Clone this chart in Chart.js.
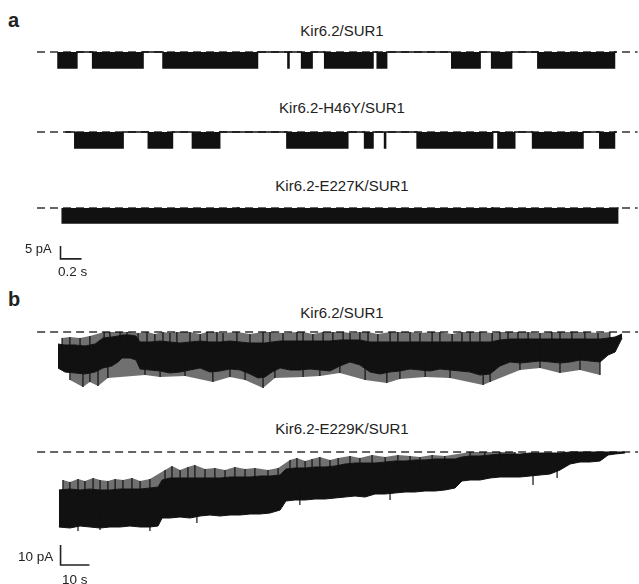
<!DOCTYPE html>
<html>
<head>
<meta charset="utf-8">
<script src="https://cdn.jsdelivr.net/npm/chart.js@4.4.1/dist/chart.umd.min.js"></script>
<style>
  body { margin: 0; background: #fff; }
  #page { position: relative; width: 639px; height: 584px; overflow: hidden; font-family: "Liberation Sans", Arial, sans-serif; color: #222; }
  canvas { position: absolute; }
  .lbl { position: absolute; white-space: nowrap; line-height: 1; }
</style>
</head>
<body>
<div id="page"></div>
<script>
// ---- panel a: single-channel bursts (time in s, current in pA, closed level = 0) ----
const a1Rec = [0, 5.32];
const a1Start = [0.00, 0.33, 1.00, 2.19, 2.32, 2.54, 3.04, 3.75, 4.13, 4.57];
const a1End   = [0.18, 0.81, 1.90, 2.20, 2.42, 3.00, 3.13, 4.02, 4.32, 5.30];
const a1Open = -6.4;

const a2Rec = [0.07, 5.32];
const a2Start = [0.16, 0.86, 1.28, 2.18, 2.92, 3.11, 3.42, 4.19, 4.52, 5.16];
const a2End   = [0.62, 1.09, 1.54, 2.76, 3.00, 3.12, 4.14, 4.35, 5.00, 5.30];
const a2Open = -6.4;

const a3Rec = [0.04, 5.34];
const a3Start = [0.04, 1.72, 4.14];
const a3End   = [1.71, 4.13, 5.33];
const a3Open = -6.0;

// ---- panel b: macroscopic currents, envelope of the trace (time in s, current in pA) ----
const b1Time = [0, 2.4, 5.9, 9.3, 12.8, 15.5, 18.6, 20.7, 22.1, 24.8, 26.9, 28.3,
  31.7, 35.2, 38.6, 42.1, 45.5, 49.0, 52.4, 55.9, 59.3, 62.8, 66.2,
  69.0, 71.4, 73.8,
  76.6, 80.0, 83.4, 86.9, 90.3, 93.8, 97.2, 100.7, 104.1, 107.6, 111.0, 114.5, 117.9, 121.4, 124.8, 128.3, 131.7,
  135.2, 138.6, 142.1, 145.5, 149.0, 152.4, 155.9, 159.3, 162.8, 166.2, 169.7, 173.1, 176.6, 180.0, 183.4, 186.9,
  189.7, 192.1, 194.5];
const b1Top = [-6, -6.5, -6.5, -7, -6, -3, -2.5, -2, -1.5, -1.5, -2, -5,
  -5, -4.5, -5, -5.5, -5, -4.5, -5, -5, -4.5, -5, -5.5,
  -5.5, -5.5, -5,
  -4.5, -4.5, -4.5, -4.5, -4.5, -4.5, -4, -4, -4, -5, -5, -5, -5, -5, -5, -5, -5,
  -5, -5, -5, -5, -5, -4, -3.5, -3.5, -3.5, -3.5, -3.5, -3.5, -3.5, -3.5, -3.5, -3.5,
  -3, -2.5, -1];
const b1Bottom = [-18, -20, -20.5, -21, -20, -18, -17, -15, -13, -13, -14, -18.5,
  -19, -19.5, -20.5, -20, -19, -18, -20, -19.5, -18.5, -19, -21,
  -23, -22.5, -20,
  -18, -19, -19, -18.5, -19, -19.5, -17, -15, -16.5, -20, -21, -20, -19.5, -18.5, -19, -19.5, -18.5,
  -19, -19.5, -20, -21.5, -21, -17, -15, -15.5, -15, -14.5, -15, -15.5, -15, -14, -14.5, -15,
  -11.5, -10, -3];
const b1UpT = [1.4, 4.1, 7.6, 11.0, 15.9, 17.9, 21.4, 23.8, 27.6, 30.7,
  33.4, 36.2, 38.6, 41.0, 45.5, 49.0, 51.4, 54.8, 56.9, 61.7,
  66.2, 70.7, 73.1, 77.6, 82.4, 84.5, 87.9, 91.4, 94.8, 98.3,
  100.7, 104.1, 106.9, 110.3, 114.5, 117.2, 121.4, 124.8, 129.0, 131.7,
  135.9, 139.3, 142.1, 145.5, 149.7, 152.4, 155.2, 158.6, 162.1, 166.2,
  170.3, 173.1, 177.2, 181.7, 186.2, 190.3];
const b1UpTip = [-3, -2.5, -3, -2, 0, 0, 0, 0, -0.5, 0,
  -1, 0, -0.5, 0, 0, -1, 0, 0, -0.5, 0,
  -1, 0, 0, -0.5, 0, 0, -1, 0, 0, 0,
  -0.5, 0, 0, -1, 0, 0, 0, -0.5, 0, 0,
  -1, 0, 0, 0, -0.5, 0, 0, 0, 0, -0.5,
  0, 0, 0, 0, -0.5, 0];
const b1DownT = [4.1, 8.6, 11.0, 13.8, 17.2, 30.0, 35.2, 43.8, 53.4, 59.3, 64.5, 70.7, 74.8, 84.5,
  90.3, 97.2, 105.9, 113.4, 117.9, 126.6, 135.2, 146.6, 149.0, 159.3, 166.2, 173.1, 180.0, 186.9];
const b1DownTip = [-24, -27.5, -25, -27, -23, -21.5, -22.5, -22, -25, -22.5, -24, -28, -23, -22.5,
  -22, -20.5, -24, -25.5, -23.5, -22.5, -23, -26.5, -25, -19, -18, -20.5, -19, -21.5];

const b2Time = [0.3, 4.1, 7.6, 11.0, 14.5, 17.9, 21.4, 24.8, 28.3, 31.7, 34.5,
  35.9, 38.6, 42.1, 45.5, 49.0, 52.4, 55.9, 59.3, 62.8, 66.2, 69.7, 73.1, 76.6,
  78.6, 81.7, 85.2, 88.6, 92.1, 95.5, 99.0, 102.4, 105.9, 109.3, 112.8, 116.2, 119.7, 123.1, 126.6, 130.0, 133.4, 136.9,
  139.3, 142.1, 145.5, 149.0, 152.4, 155.9, 159.3, 162.8, 166.2, 169.7, 173.1, 176.6, 180.0, 183.4, 186.9,
  189.7, 192.1, 195.5];
const b2Top = [-19, -18.5, -19, -18.5, -19, -19, -18.5, -18.5, -18.5, -18, -17.5,
  -14, -13, -13, -13, -13, -13, -13, -12.5, -12.5, -12.5, -12, -12, -11.5,
  -8.5, -8, -8, -7.5, -7.5, -7, -6, -5.5, -5.5, -5.5, -5, -4.5, -4.5, -4, -4, -3.5, -3.5, -3.5,
  -2.5, -2, -2, -1.5, -1, -1, -1, -0.5, -0.5, -0.5, -0.5, 0, 0, 0, 0,
  0, 0, 0];
const b2Bottom = [-37.5, -38, -37, -37.5, -38, -37.5, -37.5, -37, -37.5, -37.5, -37,
  -33, -33, -32.5, -33, -32, -31.5, -32, -31.5, -31.5, -31, -31, -30.5, -29,
  -24.5, -24, -24, -23.5, -23.5, -23, -22.5, -22, -22.5, -21, -21, -20.5, -20, -20, -19.5, -19.5, -19, -18,
  -14.5, -14, -14, -13, -12.5, -12.5, -12.5, -12, -11.5, -11, -9, -6, -5, -5, -4.5,
  -1.5, -1, -0.5];
const b2UpT = [1.7, 4.1, 6.9, 9.3, 12.1, 14.5, 17.2, 19.7, 22.4, 25.5, 28.3, 31.7,
  36.9, 39.3, 42.1, 44.8, 47.2, 50.7, 54.1, 57.6, 61.0, 64.5, 67.9, 72.4, 75.9,
  80.0, 82.4, 85.2, 87.6, 90.3, 93.8, 96.6,
  100.7, 104.1, 108.3, 112.8, 117.2, 121.4, 124.8, 129.0, 133.4,
  142.1, 147.2, 152.4, 157.6];
const b2UpTip = [-14, -15, -13.5, -14.5, -13, -14, -14.5, -13.5, -14, -13, -14.5, -13.5,
  -9, -7, -9, -7.5, -6.5, -8.5, -8, -9, -7.5, -8.5, -8, -9, -8,
  -4, -3, -4.5, -3.5, -2.5, -4, -3,
  -2, -3, -1.5, -2.5, -1.5, -2, -2.5, -1.5, -2,
  0, 0, 0, 0];
const b2DownT = [6.9, 14.5, 31.7, 47.9, 83.4, 114.5, 163.8, 172.1];
const b2DownTip = [-39.5, -39, -39.5, -35.5, -26.5, -24, -16.5, -13];

// scale bars
const aBar = { pA: 5, s: 0.2 };
const bBar = { pA: 10, s: 10 };

const page = document.getElementById("page");
const INK = "#111";
const HAZE = "rgba(17,17,17,0.6)";

function label(text, x, cy, size, opts) {
  const d = document.createElement("div");
  d.className = "lbl";
  d.textContent = text;
  d.style.fontSize = size + "px";
  d.style.top = (cy - size * 0.49) + "px";
  d.style.left = x + "px";
  if (opts && opts.center) d.style.transform = "translateX(-50%)";
  if (opts && opts.bold) d.style.fontWeight = "bold";
  page.appendChild(d);
}

// box: data (0,0) sits at page pixel (x0, y0)
function makeChart(box, datasets) {
  const c = document.createElement("canvas");
  const w = Math.round((box.xMax - box.xMin) * box.pxX);
  const h = Math.round((box.yMax - box.yMin) * box.pxY);
  c.width = w; c.height = h;
  c.style.width = w + "px"; c.style.height = h + "px";
  c.style.left = Math.round(box.x0 + box.xMin * box.pxX) + "px";
  c.style.top = Math.round(box.y0 - box.yMax * box.pxY) + "px";
  page.appendChild(c);
  return new Chart(c.getContext("2d"), {
    type: "line",
    data: { datasets: datasets },
    options: {
      responsive: false,
      animation: false,
      devicePixelRatio: 1,
      events: [],
      layout: { padding: 0 },
      plugins: { legend: { display: false }, tooltip: { enabled: false } },
      elements: { point: { radius: 0 }, line: { tension: 0 } },
      scales: {
        x: { type: "linear", min: box.xMin, max: box.xMax, display: false },
        y: { type: "linear", min: box.yMin, max: box.yMax, display: false }
      }
    }
  });
}

function burstPoints(rec, starts, ends, open) {
  const pts = [{ x: rec[0], y: 0 }];
  starts.forEach((s, i) => {
    pts.push({ x: s, y: 0 }, { x: s, y: open }, { x: ends[i], y: open }, { x: ends[i], y: 0 });
  });
  pts.push({ x: rec[1], y: 0 });
  return pts;
}

function spikePoints(times, tips, reach) {
  const pts = [];
  times.forEach((t, i) => {
    pts.push({ x: t, y: tips[i] }, { x: t, y: tips[i] + reach }, { x: t, y: null });
  });
  return pts;
}

function xy(times, vals) {
  return times.map((t, i) => ({ x: t, y: vals[i] }));
}

function dashed(x0, x1) {
  return { data: [{ x: x0, y: 0 }, { x: x1, y: 0 }], borderColor: "#333", borderWidth: 1.5,
    borderDash: [8, 5], fill: false, order: 5 };
}

function burstTrace(rec, starts, ends, open) {
  return { data: burstPoints(rec, starts, ends, open), borderColor: INK, backgroundColor: INK,
    borderWidth: 1.5, fill: "origin", order: 1 };
}

function envelope(time, vals, fill) {
  return { data: xy(time, vals), borderColor: INK, backgroundColor: INK,
    borderWidth: 1, fill: fill, order: 1 };
}

// flicker band between the spike tips and the dense core
function haze(times, tips, target) {
  return { data: xy(times, tips), borderWidth: 0, borderColor: "rgba(0,0,0,0)",
    backgroundColor: HAZE, fill: target, order: 3 };
}

function spikes(times, tips, reach) {
  return { data: spikePoints(times, tips, reach), borderColor: INK, borderWidth: 1.2,
    spanGaps: false, fill: false, order: 0 };
}

// ---- panel a ----
const boxA = { pxX: 105, pxY: 2.5, xMin: -0.2, xMax: 5.6, yMin: -10, yMax: 2, x0: 58 };
makeChart(Object.assign({}, boxA, { y0: 52 }), [dashed(-0.2, 5.52), burstTrace(a1Rec, a1Start, a1End, a1Open)]);
makeChart(Object.assign({}, boxA, { y0: 132 }), [dashed(-0.2, 5.52), burstTrace(a2Rec, a2Start, a2End, a2Open)]);
makeChart(Object.assign({}, boxA, { y0: 208 }), [dashed(-0.2, 5.52), burstTrace(a3Rec, a3Start, a3End, a3Open)]);

makeChart({ pxX: 105, pxY: 2.5, xMin: -0.1, xMax: 0.3, yMin: -2, yMax: 7, x0: 60, y0: 258 }, [{
  data: [{ x: 0, y: aBar.pA }, { x: 0, y: 0 }, { x: aBar.s, y: 0 }],
  borderColor: "#222", borderWidth: 1.6, fill: false
}]);

// ---- panel b ----
const boxB = { pxX: 2.9, pxY: 2, xMin: -10, xMax: 200, x0: 58 };
makeChart(Object.assign({}, boxB, { yMin: -32, yMax: 3, y0: 332 }), [
  dashed(-7.2, 200),
  envelope(b1Time, b1Top, false),
  envelope(b1Time, b1Bottom, "-1"),
  haze(b1UpT, b1UpTip, 1),
  haze(b1DownT, b1DownTip, 2),
  spikes(b1UpT, b1UpTip, -8),
  spikes(b1DownT, b1DownTip, 10)
]);
makeChart(Object.assign({}, boxB, { yMin: -42, yMax: 3, y0: 452 }), [
  dashed(-7.2, 200),
  envelope(b2Time, b2Top, false),
  envelope(b2Time, b2Bottom, "-1"),
  haze(b2UpT, b2UpTip, 1),
  spikes(b2UpT, b2UpTip, -8),
  spikes(b2DownT, b2DownTip, 10)
]);

makeChart({ pxX: 2.9, pxY: 2, xMin: -4, xMax: 14, yMin: -2, yMax: 12, x0: 61, y0: 565 }, [{
  data: [{ x: 0, y: bBar.pA }, { x: 0, y: 0 }, { x: bBar.s, y: 0 }],
  borderColor: "#222", borderWidth: 1.6, fill: false
}]);

// ---- text ----
label("a", 8, 20, 20, { bold: true });
label("b", 8, 299, 20, { bold: true });
label("Kir6.2/SUR1", 342, 30, 15, { center: true });
label("Kir6.2-H46Y/SUR1", 342, 107, 15, { center: true });
label("Kir6.2-E227K/SUR1", 342, 185, 15, { center: true });
label("Kir6.2/SUR1", 342, 312, 15, { center: true });
label("Kir6.2-E229K/SUR1", 342, 428, 15, { center: true });
label("5 pA", 25, 248, 13);
label("0.2 s", 58, 272, 13.5);
label("10 pA", 18, 557, 13.5);
label("10 s", 62, 580, 13.5);
</script>
</body>
</html>
